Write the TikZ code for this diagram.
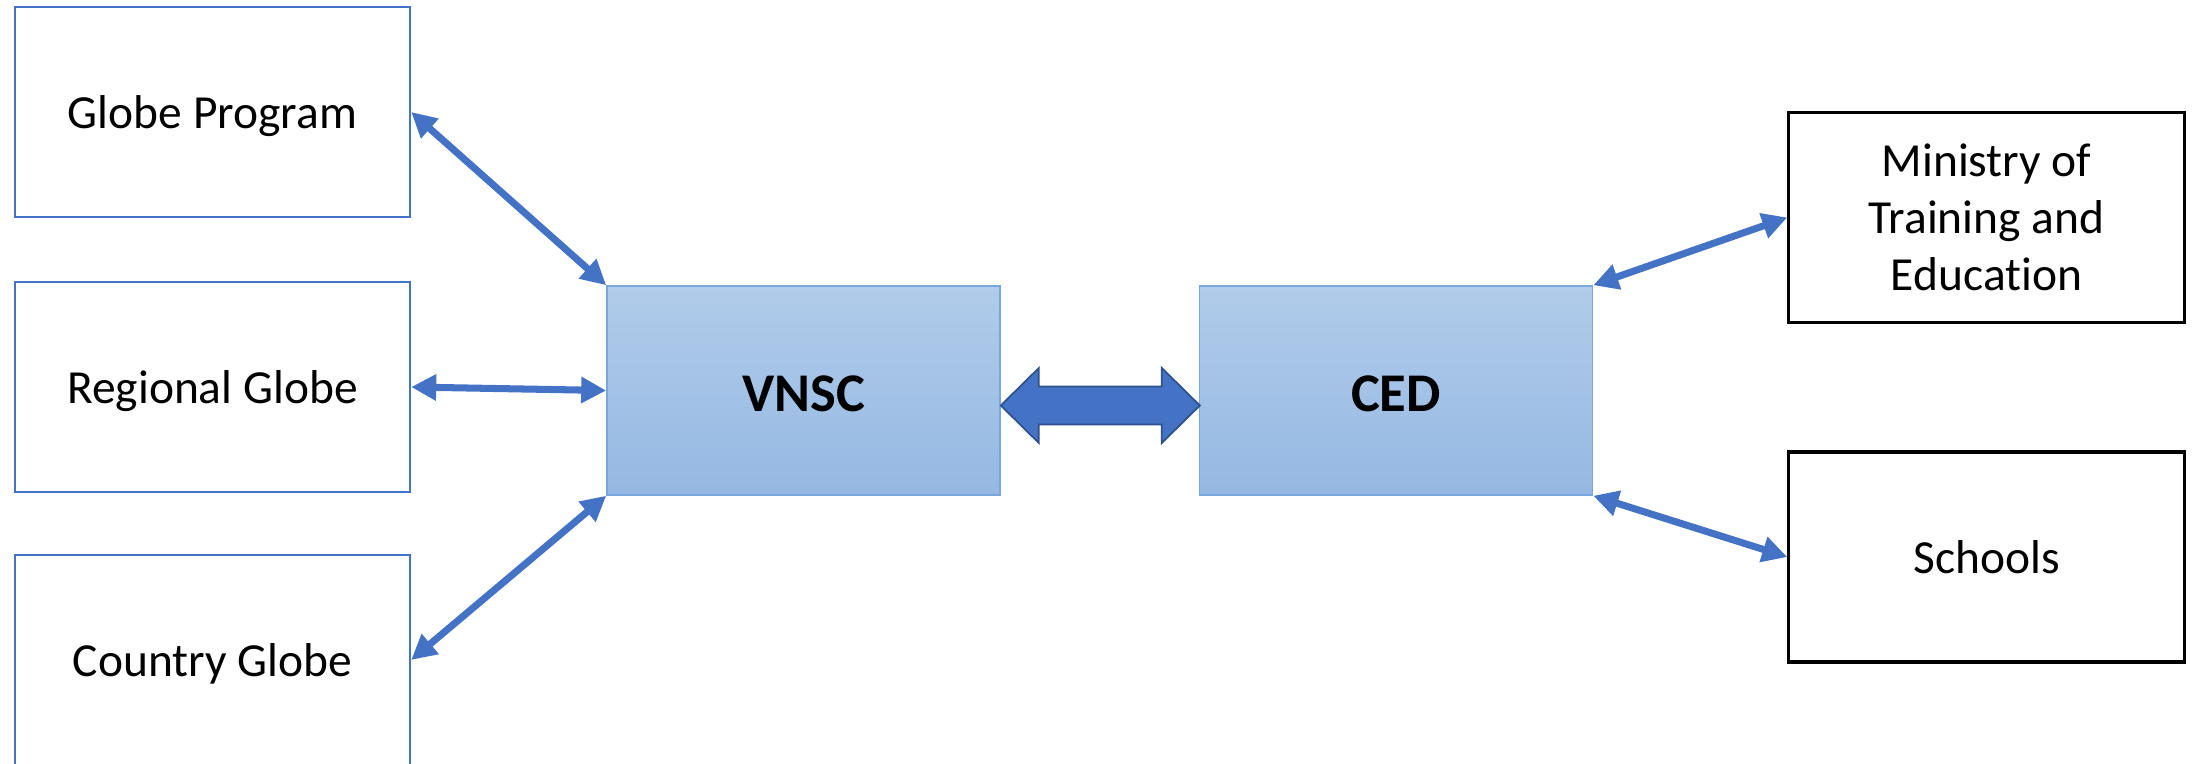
\documentclass[tikz,border=0pt]{standalone}
\usepackage{fontspec}
\setmainfont{Carlito}[Ligatures=CommonOff]
\usetikzlibrary{arrows.meta,calc}
\definecolor{linkblue}{HTML}{4472C4}
\definecolor{arrowline}{HTML}{2F528F}
\definecolor{hubtop}{HTML}{B1CCEA}
\definecolor{hubbottom}{HTML}{95B8E2}
\definecolor{hubline}{HTML}{79A7DD}
\begin{document}
\begin{tikzpicture}
		    [%%%%%%%%%%%%%%%%%%%%%%%%%%%%%%
		        x=0.01cm, y=-0.01cm,
		        party/.style={rectangle,draw=linkblue,line width=0.6pt, minimum width=3.95cm, minimum height=2.1cm, align=center, font=\fontsize{13.5}{16.2}\selectfont},
		        globe/.style={party, text height=9.5pt, text depth=0pt},
		        agency/.style={party, draw=black, line width=0.9pt},
		        hub/.style={rectangle,draw=hubline,line width=0.4pt, top color=hubtop, bottom color=hubbottom, minimum width=3.93cm, minimum height=2.09cm, text height=11.7pt, text depth=0pt, font=\fontsize{15.5}{18}\selectfont\bfseries},
		        link/.style={draw=linkblue, line width=2pt, {Triangle[length=0.25cm,width=0.25cm]}-{Triangle[length=0.25cm,width=0.25cm]}},
		        bigarrow/.style={fill=linkblue, draw=arrowline, line width=0.5pt, line join=miter},
		    ]%%%%%%%%%%%%%%%%%%%%%%%%%%%%%%
		\useasboundingbox (0,0) rectangle (2199,764);

		\node[globe] (gp) at (212.5,112) {Globe Program};
		\node[globe] (rg) at (212.5,387) {Regional Globe};
		\node[globe] (cg) at (212.5,660) {Country Globe};

		\node[hub] (vnsc) at (803.5,390.5) {VNSC};
		\node[hub] (ced) at (1396,390.5) {CED};

		\node[agency] (mte) at (1986.5,217.5) {Ministry of\\Training and\\Education};
		\node[agency] (sch) at (1986.5,557) {Schools};

		\draw[link] (gp.east) -- (vnsc.north west);
		\draw[link] (rg.east) -- (vnsc.west);
		\draw[link] (cg.east) -- (vnsc.south west);
		\draw[link] (ced.north east) -- (mte.west);
		\draw[link] (ced.south east) -- (sch.west);

		\draw[bigarrow] ($(vnsc.east)+(0,15)$) -- ++(38,-37.5) -- ++(0,18.5) -- ++(123,0) -- ++(0,-18.5) -- ++(38,37.5)
		    -- ++(-38,37.5) -- ++(0,-18.5) -- ++(-123,0) -- ++(0,18.5) -- cycle;
		\end{tikzpicture}
\end{document}
